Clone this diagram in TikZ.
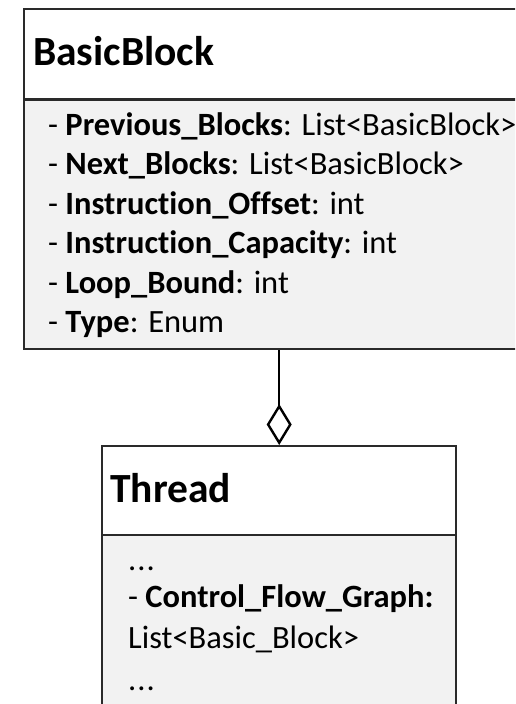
\documentclass[tikz,border=0pt]{standalone}
\usepackage{fontspec}
\setmainfont[Ligatures=NoCommon]{Carlito}
\usetikzlibrary{arrows.meta}
\definecolor{linegray}{HTML}{2A2A2A}
\definecolor{attrgray}{HTML}{F2F2F2}
\begin{document}
\begin{tikzpicture}[x=1pt,y=-1pt,
  box/.style={draw=linegray,line width=2.4pt,rectangle,inner sep=0pt},
  divider/.style={draw=linegray,line width=2.4pt},
  title/.style={anchor=base west,inner sep=0pt,font=\fontsize{41.5}{49}\selectfont\bfseries},
  attr/.style={anchor=base west,inner sep=0pt,font=\fontsize{32.5}{38}\selectfont},
  agg/.style={draw=black,line width=2.4pt,-{Diamond[open,length=41pt,width=25pt]}}]
\useasboundingbox (0,0) rectangle (515,704);
\clip (0,0) rectangle (515,704);
\fill[white] (0,0) rectangle (515,704);
% BasicBlock
\fill[attrgray] (23,99.5) rectangle (580,348);
\node[box,minimum width=557pt,minimum height=340pt,anchor=north west] (bb) at (23,8) {};
\draw[divider] (23,99.5) -- (580,99.5);
\node[title] (bbt) at (33,65) {BasicBlock};
\node[attr] (a1) at (48,135) {- \textbf{Previous\_Blocks}: List<BasicBlock>};
\node[attr] (a2) at (48,174) {- \textbf{Next\_Blocks}: List<BasicBlock>};
\node[attr] (a3) at (48,214) {- \textbf{Instruction\_Offset}: int};
\node[attr] (a4) at (48,253) {- \textbf{Instruction\_Capacity}: int};
\node[attr] (a5) at (48,293) {- \textbf{Loop\_Bound}: int};
\node[attr] (a6) at (48,332) {- \textbf{Type}: Enum};
% Thread
\fill[attrgray] (101,535) rectangle (455,780);
\node[box,minimum width=354pt,minimum height=335pt,anchor=north west] (th) at (101,445) {};
\draw[divider] (101,535) -- (455,535);
\node[title] (tht) at (110,502) {Thread};
\node[attr] (t1) at (128,570) {.\kern1pt.\kern1pt.};
\node[attr] (t2) at (128,607) {- \textbf{Control\_Flow\_Graph:}};
\node[attr] (t3) at (128,648) {List<Basic\_Block>};
\node[attr] (t4) at (128,690) {.\kern1pt.\kern1pt.};
% aggregation
\draw[agg] (th.north |- bb.south) -- (th.north);
\end{tikzpicture}
\end{document}
